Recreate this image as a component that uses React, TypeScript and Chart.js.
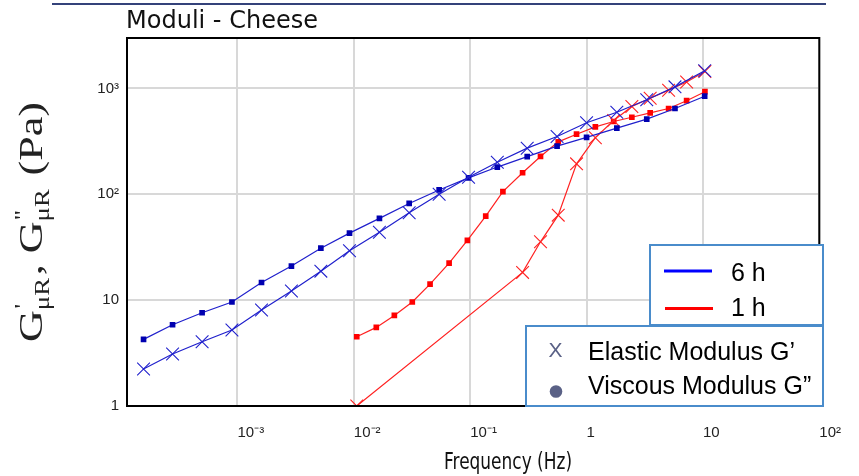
import React, { useEffect, useRef } from "react";
import { Chart, registerables } from "chart.js";

Chart.register(...registerables);

// Frequency sweep after 6 h (Hz) and the moduli measured at each step (Pa)
const freq6h = [1.56e-4, 2.77e-4, 4.97e-4, 8.97e-4, 1.61e-3, 2.91e-3, 5.21e-3, 9.18e-3, 0.0166, 0.0299, 0.0541, 0.0968, 0.171, 0.309, 0.558, 1.0, 1.82, 3.29, 5.75, 10.35];
const elastic6h = [2.24, 3.1, 4.05, 5.22, 8.07, 12.2, 18.8, 29.3, 43.8, 66.9, 100, 145, 201, 273, 352, 475, 597, 782, 1036, 1472];
const viscous6h = [4.26, 5.86, 7.6, 9.6, 14.7, 21.0, 31.0, 43.0, 59.3, 82.0, 110, 143, 181, 227, 285, 345, 422, 513, 647, 846];

// Frequency sweep after 1 h
const freq1h = [0.0106, 0.0156, 0.0223, 0.0318, 0.0452, 0.0659, 0.0946, 0.136, 0.191, 0.282, 0.402, 0.571, 0.82, 1.19, 1.71, 2.45, 3.52, 5.07, 7.24, 10.4];
const viscous1h = [4.51, 5.53, 7.18, 9.6, 14.2, 22.4, 36.7, 62.3, 106, 160, 228, 313, 370, 434, 488, 535, 589, 647, 767, 933];
const freq1hElastic = [0.0106, 0.282, 0.402, 0.571, 0.82, 1.19, 1.71, 2.45, 3.52, 5.07, 7.24, 10.4];
const elastic1h = [1.0, 18.3, 35.6, 63.6, 194, 343, 499, 676, 810, 964, 1153, 1445];

// Axis decades
const xTickValues = [1e-3, 1e-2, 1e-1, 1, 10, 100];
const xTickLabels = ["10\u207B\u00B3", "10\u207B\u00B2", "10\u207B\u00B9", "1", "10", "10\u00B2"];
const yTickValues = [1, 10, 100, 1000];
const yTickLabels = ["1", "10", "10\u00B2", "10\u00B3"];

const chartTitle = "Moduli - Cheese";
const xTitle = "Frequency (Hz)";
const timeLegend = ["6 h", "1 h"];
const moduliLegend = ["Elastic Modulus G\u2019", "Viscous Modulus G\u201D"];

const BLUE_LINE = "#2020cc";
const BLUE_MARK = "#0000b0";
const RED_LINE = "#ff2222";
const RED_MARK = "#ff0000";
const LEGEND_BORDER = "#4a8ccb";

const pairs = (xs: number[], ys: number[]) => xs.map((x, i) => ({ x, y: ys[i] }));

// Draws text squeezed or stretched horizontally to a given width
function fitText(ctx: CanvasRenderingContext2D, text: string, x: number, y: number, font: string, width: number) {
  ctx.save();
  ctx.font = font;
  const w = ctx.measureText(text).width;
  ctx.translate(x, y);
  ctx.scale(width / w, 1);
  ctx.textAlign = "left";
  ctx.textBaseline = "alphabetic";
  ctx.fillText(text, 0, 0);
  ctx.restore();
}

// Rotated y-axis title: G'μR, G''μR (Pa) with stacked prime / subscript
function drawYTitle(ctx: CanvasRenderingContext2D, baseX: number, startY: number, endY: number) {
  const big = "33px 'Liberation Serif', 'DejaVu Serif', serif";
  const small = "20px 'Liberation Serif', 'DejaVu Serif', serif";
  type Piece = { main?: string; sup?: string; sub?: string };
  const pieces: Piece[] = [
    { main: "G" },
    { sup: "'", sub: "\u03BCR" },
    { main: ", G" },
    { sup: "''", sub: "\u03BCR" },
    { main: " (Pa)" },
  ];
  ctx.save();
  const widthOf = (p: Piece) => {
    if (p.main) {
      ctx.font = big;
      return ctx.measureText(p.main).width;
    }
    ctx.font = small;
    return Math.max(ctx.measureText(p.sup || "").width, ctx.measureText(p.sub || "").width) + 2;
  };
  const total = pieces.reduce((s, p) => s + widthOf(p), 0);
  const target = startY - endY;
  ctx.translate(baseX, startY);
  ctx.rotate(-Math.PI / 2);
  ctx.scale(target / total, 1);
  ctx.fillStyle = "#222";
  ctx.textBaseline = "alphabetic";
  ctx.textAlign = "left";
  let x = 0;
  for (const p of pieces) {
    const w = widthOf(p);
    if (p.main) {
      ctx.font = big;
      ctx.fillText(p.main, x, 0);
    } else {
      ctx.font = small;
      ctx.fillText(p.sup || "", x + 1, -13);
      ctx.fillText(p.sub || "", x, 7);
    }
    x += w;
  }
  ctx.restore();
}

const decorations = {
  id: "decorations",
  afterDraw(chart: Chart) {
    const { ctx, chartArea: a } = chart;
    ctx.save();

    // rule along the top edge
    ctx.strokeStyle = "#34427a";
    ctx.lineWidth = 2;
    ctx.beginPath();
    ctx.moveTo(52, 4);
    ctx.lineTo(826, 4);
    ctx.stroke();

    // plot frame
    ctx.strokeStyle = "#000";
    ctx.lineWidth = 2;
    ctx.strokeRect(a.left, a.top, a.right - a.left, a.bottom - a.top);

    // titles
    ctx.fillStyle = "#111";
    fitText(ctx, chartTitle, 126, 28, "25px 'DejaVu Sans', sans-serif", 192);
    fitText(ctx, xTitle, 444, 469, "23px 'DejaVu Sans', sans-serif", 128);
    drawYTitle(ctx, 42, 342, 102);

    // legend: measurement time
    ctx.lineWidth = 2;
    ctx.strokeStyle = LEGEND_BORDER;
    ctx.fillStyle = "#fff";
    ctx.fillRect(650, 245, 173, 80);
    ctx.strokeRect(650, 245, 173, 80);
    ctx.lineWidth = 3;
    ctx.strokeStyle = "#0000ff";
    ctx.beginPath();
    ctx.moveTo(664, 271);
    ctx.lineTo(712, 271);
    ctx.stroke();
    ctx.strokeStyle = "#ff0000";
    ctx.beginPath();
    ctx.moveTo(665, 308.5);
    ctx.lineTo(713, 308.5);
    ctx.stroke();
    ctx.fillStyle = "#000";
    ctx.font = "25px 'Liberation Sans', Arial, sans-serif";
    ctx.textAlign = "left";
    ctx.textBaseline = "alphabetic";
    ctx.fillText(timeLegend[0], 731, 281);
    ctx.fillText(timeLegend[1], 731, 316);

    // legend: modulus type
    ctx.lineWidth = 2;
    ctx.strokeStyle = LEGEND_BORDER;
    ctx.fillStyle = "#fff";
    ctx.fillRect(526, 326, 297, 80);
    ctx.strokeRect(526, 326, 297, 80);
    ctx.fillStyle = "#5a6186";
    ctx.font = "21px 'Liberation Sans', Arial, sans-serif";
    ctx.textAlign = "center";
    ctx.fillText("X", 555.5, 357);
    ctx.beginPath();
    ctx.arc(556, 391.5, 6.3, 0, Math.PI * 2);
    ctx.fill();
    ctx.fillStyle = "#000";
    ctx.textAlign = "left";
    ctx.font = "25px 'Liberation Sans', Arial, sans-serif";
    ctx.fillText(moduliLegend[0], 588, 360);
    ctx.fillText(moduliLegend[1], 588, 394);

    ctx.restore();
  },
};

export default function App() {
  const ref = useRef<HTMLCanvasElement>(null);

  useEffect(() => {
    const canvas = ref.current;
    if (!canvas) return;
    const tickFont = { family: "'Liberation Sans', Arial, sans-serif", size: 15 };
    const chart = new Chart(canvas, {
      type: "line",
      data: {
        datasets: [
          {
            label: "G' 6 h",
            data: pairs(freq6h, elastic6h),
            borderColor: BLUE_LINE,
            borderWidth: 1.2,
            pointStyle: "crossRot",
            pointRadius: 9,
            pointBorderWidth: 1.1,
            pointBorderColor: BLUE_LINE,
            tension: 0,
            clip: 0,
          },
          {
            label: "G'' 6 h",
            data: pairs(freq6h, viscous6h),
            borderColor: BLUE_LINE,
            borderWidth: 1.2,
            pointStyle: "rect",
            pointRadius: 4,
            pointBorderWidth: 0,
            pointBackgroundColor: BLUE_MARK,
            pointBorderColor: BLUE_MARK,
            tension: 0,
            clip: 0,
          },
          {
            label: "G' 1 h",
            data: pairs(freq1hElastic, elastic1h),
            borderColor: RED_LINE,
            borderWidth: 1.2,
            pointStyle: "crossRot",
            pointRadius: 9,
            pointBorderWidth: 1.1,
            pointBorderColor: RED_LINE,
            tension: 0,
            clip: 0,
          },
          {
            label: "G'' 1 h",
            data: pairs(freq1h, viscous1h),
            borderColor: RED_LINE,
            borderWidth: 1.2,
            pointStyle: "rect",
            pointRadius: 4,
            pointBorderWidth: 0,
            pointBackgroundColor: RED_MARK,
            pointBorderColor: RED_MARK,
            tension: 0,
            clip: 0,
          },
        ],
      },
      options: {
        responsive: false,
        animation: false,
        devicePixelRatio: 1,
        layout: { padding: { left: 0, top: 38, right: 36, bottom: 0 } },
        plugins: { legend: { display: false }, tooltip: { enabled: false }, title: { display: false } },
        scales: {
          x: {
            type: "logarithmic",
            min: Math.pow(10, -3.949),
            max: 100,
            afterBuildTicks: (scale: any) => {
              scale.ticks = xTickValues.map((value) => ({ value }));
            },
            afterFit: (scale: any) => {
              scale.height = 70;
            },
            ticks: {
              autoSkip: false,
              maxRotation: 0,
              align: "start",
              padding: 18,
              color: "#222",
              font: tickFont,
              callback: (_v: any, i: number) => xTickLabels[i],
            },
            grid: { color: "#d8d8d8", lineWidth: 2, drawTicks: false },
            border: { display: false },
          },
          y: {
            type: "logarithmic",
            min: 1,
            max: 3000,
            afterBuildTicks: (scale: any) => {
              scale.ticks = yTickValues.map((value) => ({ value }));
            },
            afterFit: (scale: any) => {
              scale.width = 127;
            },
            ticks: {
              autoSkip: false,
              padding: 8,
              color: "#222",
              font: tickFont,
              callback: (_v: any, i: number) => yTickLabels[i],
            },
            grid: { color: "#d8d8d8", lineWidth: 2, drawTicks: false },
            border: { display: false },
          },
        },
      },
      plugins: [decorations],
    } as any);
    return () => chart.destroy();
  }, []);

  return (
    <div style={{ position: "absolute", left: 0, top: 0, width: 859, height: 476, background: "#fff" }}>
      <canvas ref={ref} width={859} height={476} style={{ display: "block", width: 859, height: 476 }} />
    </div>
  );
}
